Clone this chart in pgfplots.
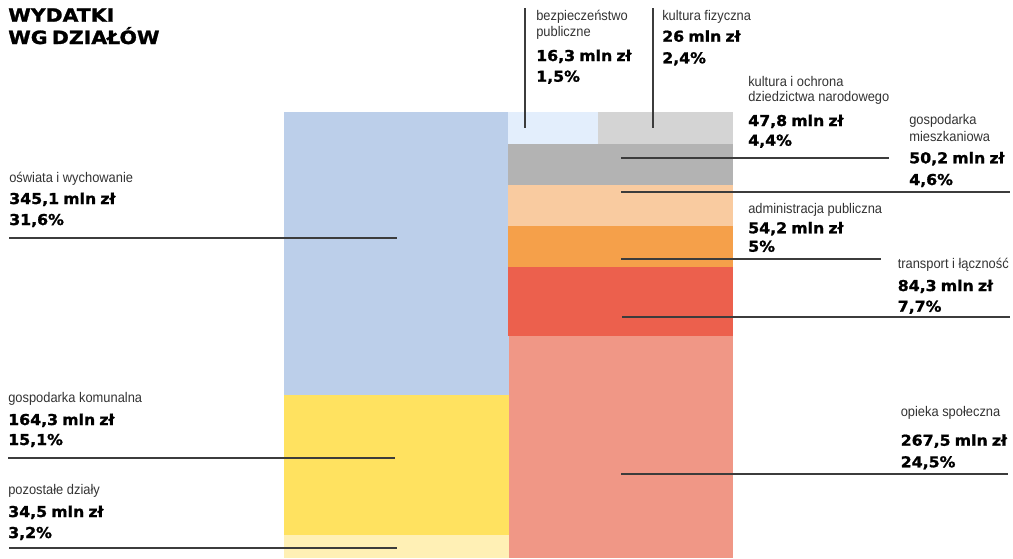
\documentclass[border=0pt]{standalone}
\usepackage{pgfplots}
\pgfplotsset{compat=1.18}
\usepackage{fontspec}
\setmainfont{Liberation Sans}
\newfontfamily\lblfont{Liberation Sans}[FakeStretch=0.92]
\newfontfamily\numfont{DejaVu Sans}[FakeStretch=1.05, BoldFeatures={FakeBold=1.2, WordSpace=0.75}]
\newfontfamily\ttlfont{DejaVu Sans}[FakeStretch=1.12, BoldFeatures={FakeBold=1.4, WordSpace=0.6}]

\definecolor{cOsw}{HTML}{BCCFEA}
\definecolor{cKom}{HTML}{FFE260}
\definecolor{cPoz}{HTML}{FFF0B5}
\definecolor{cBez}{HTML}{E3EEFC}
\definecolor{cKfz}{HTML}{D4D4D4}
\definecolor{cKul}{HTML}{B3B3B3}
\definecolor{cMie}{HTML}{F9CBA0}
\definecolor{cAdm}{HTML}{F5A04A}
\definecolor{cTra}{HTML}{EC604D}
\definecolor{cOpi}{HTML}{F09786}
\definecolor{lineC}{HTML}{3C3C3C}
\definecolor{lblC}{HTML}{333333}

% label: name lines, amount, share
\newcommand{\lbl}[1]{{\lblfont\fontsize{10.5pt}{12pt}\selectfont\color{lblC}#1}}
\newcommand{\num}[1]{{\numfont\bfseries\fontsize{11.25pt}{13pt}\selectfont #1}}

\begin{document}
\begin{tikzpicture}
\begin{axis}[
  width=759.75pt, height=418.5pt, scale only axis,
  xmin=0, xmax=1013, ymin=0, ymax=558, y dir=reverse,
  hide axis, clip=false]

% blocks: x0, y0, x1, y1 in pixel units
\addplot[fill=cOsw, draw=none] coordinates {(284,112) (509,112) (509,395) (284,395)} -- cycle;
\addplot[fill=cKom, draw=none] coordinates {(284,395) (509,395) (509,535) (284,535)} -- cycle;
\addplot[fill=cPoz, draw=none] coordinates {(284,535) (509,535) (509,558) (284,558)} -- cycle;
\addplot[fill=cBez, draw=none] coordinates {(508,112) (598,112) (598,144) (508,144)} -- cycle;
\addplot[fill=cKfz, draw=none] coordinates {(598,112) (733,112) (733,144) (598,144)} -- cycle;
\addplot[fill=cKul, draw=none] coordinates {(508,144) (733,144) (733,185) (508,185)} -- cycle;
\addplot[fill=cMie, draw=none] coordinates {(508,185) (733,185) (733,226) (508,226)} -- cycle;
\addplot[fill=cAdm, draw=none] coordinates {(508,226) (733,226) (733,267) (508,267)} -- cycle;
\addplot[fill=cTra, draw=none] coordinates {(508,267) (733,267) (733,336) (508,336)} -- cycle;
\addplot[fill=cOpi, draw=none] coordinates {(509,336) (733,336) (733,558) (509,558)} -- cycle;

% leader lines
\draw[lineC, line width=0.9pt] (axis cs:9,238) -- (axis cs:397,238);
\draw[lineC, line width=0.9pt] (axis cs:8,458) -- (axis cs:395,458);
\draw[lineC, line width=0.9pt] (axis cs:9,548) -- (axis cs:397,548);
\draw[lineC, line width=0.9pt] (axis cs:525,8) -- (axis cs:525,128);
\draw[lineC, line width=0.9pt] (axis cs:653,8) -- (axis cs:653,128);
\draw[lineC, line width=0.9pt] (axis cs:621,158) -- (axis cs:889,158);
\draw[lineC, line width=0.9pt] (axis cs:621,192) -- (axis cs:1010,192);
\draw[lineC, line width=0.9pt] (axis cs:621,259) -- (axis cs:881,259);
\draw[lineC, line width=0.9pt] (axis cs:622,317) -- (axis cs:1010,317);
\draw[lineC, line width=0.9pt] (axis cs:621,474) -- (axis cs:1008,474);

% title
\node[anchor=base west, inner sep=0] at (axis cs:8,21.7) {\ttlfont\bfseries\fontsize{13.7pt}{16pt}\selectfont WYDATKI};
\node[anchor=base west, inner sep=0] at (axis cs:8,44) {\ttlfont\bfseries\fontsize{13.7pt}{16pt}\selectfont WG DZIAŁÓW};

% left labels
\node[anchor=base west, inner sep=0] at (axis cs:9,182) {\lbl{oświata i wychowanie}};
\node[anchor=base west, inner sep=0] at (axis cs:9,204) {\num{345,1 mln zł}};
\node[anchor=base west, inner sep=0] at (axis cs:9,225) {\num{31,6\%}};
\node[anchor=base west, inner sep=0] at (axis cs:8,402) {\lbl{gospodarka komunalna}};
\node[anchor=base west, inner sep=0] at (axis cs:8,425) {\num{164,3 mln zł}};
\node[anchor=base west, inner sep=0] at (axis cs:8,445) {\num{15,1\%}};
\node[anchor=base west, inner sep=0] at (axis cs:8,494) {\lbl{pozostałe działy}};
\node[anchor=base west, inner sep=0] at (axis cs:8,517) {\num{34,5 mln zł}};
\node[anchor=base west, inner sep=0] at (axis cs:8,538) {\num{3,2\%}};

% top labels
\node[anchor=base west, inner sep=0] at (axis cs:536,20.7) {\lbl{bezpieczeństwo}};
\node[anchor=base west, inner sep=0] at (axis cs:536,36.7) {\lbl{publiczne}};
\node[anchor=base west, inner sep=0] at (axis cs:536,61) {\num{16,3 mln zł}};
\node[anchor=base west, inner sep=0] at (axis cs:536,81.7) {\num{1,5\%}};
\node[anchor=base west, inner sep=0] at (axis cs:662,20) {\lbl{kultura fizyczna}};
\node[anchor=base west, inner sep=0] at (axis cs:662,41.7) {\num{26 mln zł}};
\node[anchor=base west, inner sep=0] at (axis cs:662,63.3) {\num{2,4\%}};

% right labels
\node[anchor=base west, inner sep=0] at (axis cs:748,86) {\lbl{kultura i ochrona}};
\node[anchor=base west, inner sep=0] at (axis cs:748,101.7) {\lbl{dziedzictwa narodowego}};
\node[anchor=base west, inner sep=0] at (axis cs:748,126) {\num{47,8 mln zł}};
\node[anchor=base west, inner sep=0] at (axis cs:748,145.7) {\num{4,4\%}};
\node[anchor=base west, inner sep=0] at (axis cs:909,124.5) {\lbl{gospodarka}};
\node[anchor=base west, inner sep=0] at (axis cs:909,141) {\lbl{mieszkaniowa}};
\node[anchor=base west, inner sep=0] at (axis cs:909,163.3) {\num{50,2 mln zł}};
\node[anchor=base west, inner sep=0] at (axis cs:909,185) {\num{4,6\%}};
\node[anchor=base west, inner sep=0] at (axis cs:748,213.3) {\lbl{administracja publiczna}};
\node[anchor=base west, inner sep=0] at (axis cs:748,233.3) {\num{54,2 mln zł}};
\node[anchor=base west, inner sep=0] at (axis cs:748,251.7) {\num{5\%}};
\node[anchor=base west, inner sep=0] at (axis cs:897.5,268.3) {\lbl{transport i łączność}};
\node[anchor=base west, inner sep=0] at (axis cs:897.5,291) {\num{84,3 mln zł}};
\node[anchor=base west, inner sep=0] at (axis cs:897.5,311.7) {\num{7,7\%}};
\node[anchor=base west, inner sep=0] at (axis cs:900.5,416) {\lbl{opieka społeczna}};
\node[anchor=base west, inner sep=0] at (axis cs:900.5,445.7) {\num{267,5 mln zł}};
\node[anchor=base west, inner sep=0] at (axis cs:900.5,467.3) {\num{24,5\%}};

\coordinate (BL) at (axis cs:0,558);
\coordinate (TR) at (axis cs:1013,0);
\end{axis}
\pgfresetboundingbox
\path (BL) rectangle (TR);
\end{tikzpicture}
\end{document}
